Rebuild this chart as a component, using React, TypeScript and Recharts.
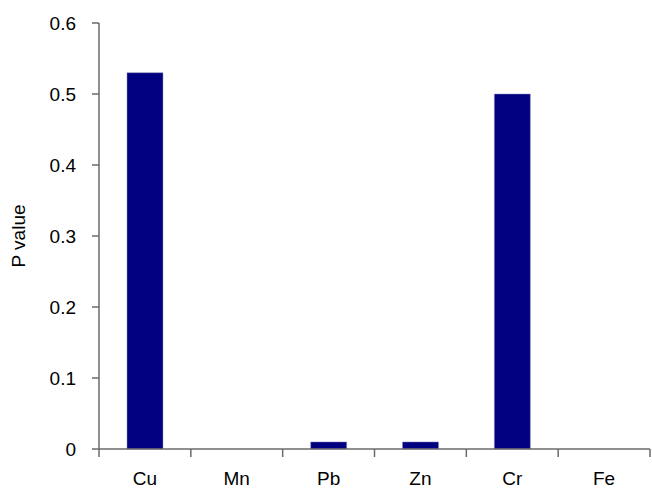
import { Bar, BarChart, Label, XAxis, YAxis } from 'recharts';

const elements = ['Cu', 'Mn', 'Pb', 'Zn', 'Cr', 'Fe'];
const pValues = [0.53, 0, 0.01, 0.01, 0.5, 0];
const yTicks = [0, 0.1, 0.2, 0.3, 0.4, 0.5, 0.6];

const data = elements.map((name, i) => ({ name, p: pValues[i] }));

const axisColor = '#6a6a6a';
const fontFamily = '"Liberation Sans", Arial, sans-serif';
const font = { fontFamily, fontSize: 19, fill: '#000' };

// category label plus the Excel-style tick marks sitting between categories
function CatTick(props: any) {
  const { x, y, payload, index, visibleTicksCount } = props;
  const half = payload.offset || 46;
  const axisY = y - 23;
  return (
    <g>
      <line x1={x - half} x2={x - half} y1={axisY} y2={axisY + 8} stroke={axisColor} strokeWidth={1.5} />
      {index === visibleTicksCount - 1 && (
        <line x1={x + half} x2={x + half} y1={axisY} y2={axisY + 8} stroke={axisColor} strokeWidth={1.5} />
      )}
      <text x={x} y={y} dy="0.71em" textAnchor="middle" fontFamily={fontFamily} fontSize={19} fill="#000">
        {payload.value}
      </text>
    </g>
  );
}

export default function App() {
  return (
    <div style={{ position: 'absolute', left: 0, top: 0, width: 652, height: 489, background: '#fff' }}>
      <BarChart width={652} height={489} data={data} margin={{ top: 23, right: 2, bottom: 0, left: 0 }}>
        <XAxis
          dataKey="name"
          height={40}
          axisLine={{ stroke: axisColor, strokeWidth: 1.5 }}
          tickLine={false}
          tickSize={8}
          tickMargin={15}
          tick={<CatTick />}
        />
        <YAxis
          width={99}
          domain={[0, 0.6]}
          ticks={yTicks}
          axisLine={{ stroke: axisColor, strokeWidth: 1.5 }}
          tickLine={{ stroke: axisColor, strokeWidth: 1.5 }}
          tickSize={7}
          tickMargin={16}
          tick={font}
        >
          <Label value="P value" angle={-90} position="center" dx={-31} style={font} />
        </YAxis>
        <Bar dataKey="p" fill="#000080" stroke="#9090c0" strokeWidth={0.5} barSize={36} isAnimationActive={false} />
      </BarChart>
    </div>
  );
}
